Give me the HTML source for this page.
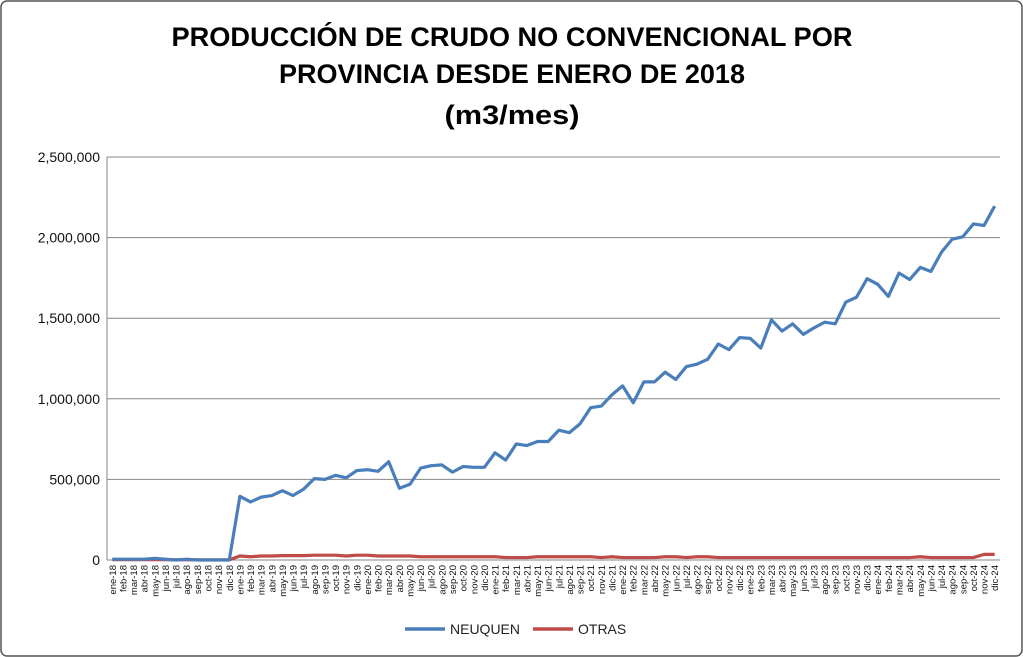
<!DOCTYPE html>
<html><head><meta charset="utf-8"><style>
body{margin:0;background:#fff}
svg{display:block;font-family:"Liberation Sans",sans-serif}
</style></head><body>
<svg id="c" width="1023" height="657">
<rect x="1" y="1" width="1021" height="655" rx="6" fill="#fff" stroke="#555" stroke-width="1.5"/>
<g font-weight="bold" font-size="27" text-anchor="middle" fill="#000">
<text x="512" y="46" textLength="681" lengthAdjust="spacingAndGlyphs">PRODUCCIÓN DE CRUDO NO CONVENCIONAL POR</text>
<text x="512" y="83" textLength="466" lengthAdjust="spacingAndGlyphs">PROVINCIA DESDE ENERO DE 2018</text>
<text x="512" y="124" textLength="135" lengthAdjust="spacingAndGlyphs">(m3/mes)</text>
</g>
<g id="grid"></g><g id="ylab"></g><g id="xlab"></g><g id="series"></g>
<g>
<line x1="405" y1="629" x2="445" y2="629" stroke="#4a7ebb" stroke-width="3.5"/>
<text x="450" y="634" font-size="14" fill="#222">NEUQUEN</text>
<line x1="533" y1="629" x2="573" y2="629" stroke="#be4b48" stroke-width="3.5"/>
<text x="578" y="634" font-size="14" fill="#222">OTRAS</text>
</g>
</svg>
<script>
const months=["ene","feb","mar","abr","may","jun","jul","ago","sep","oct","nov","dic"];
const years=["18","19","20","21","22","23","24"];
const yTicks=[0,500000,1000000,1500000,2000000,2500000];
const yTickLabels=["0","500,000","1,000,000","1,500,000","2,000,000","2,500,000"];
const neuquen=[5,5,5,5,10,5,0,5,0,0,0,0,
395,360,390,400,430,400,440,505,500,525,510,555,
560,550,610,445,470,570,585,590,545,580,575,575,
665,620,720,710,735,735,805,790,845,945,955,1025,
1080,975,1105,1105,1165,1120,1200,1215,1245,1340,1305,1380,
1375,1315,1490,1420,1465,1400,1440,1475,1465,1600,1630,1745,
1710,1635,1780,1740,1815,1790,1910,1990,2005,2085,2075,2195].map(v=>v*1000);
const otras=[2,2,2,2,3,2,1,2,1,1,1,1,
25,20,25,25,27,27,27,30,30,30,25,30,
30,25,25,25,25,20,20,20,20,20,20,20,
20,15,15,15,20,20,20,20,20,20,15,20,
15,15,15,15,20,20,15,20,20,15,15,15,
15,15,15,15,15,15,15,15,15,15,15,15,
15,15,15,15,20,15,15,15,15,15,35,35].map(v=>v*1000);
const cats=[];years.forEach(y=>months.forEach(m=>cats.push(m+"-"+y)));
const X0=107,X1=1000,Y0=560,Y1=157,NS="http://www.w3.org/2000/svg";
const step=(X1-X0)/cats.length;
const xs=i=>X0+step*(i+0.5);
const ys=v=>Y0-(v/2500000)*(Y0-Y1);
function mk(t,a,p){const e=document.createElementNS(NS,t);for(const k in a)e.setAttribute(k,a[k]);p.appendChild(e);return e;}
const grid=document.getElementById('grid'),ylab=document.getElementById('ylab'),xlab=document.getElementById('xlab'),ser=document.getElementById('series');
yTicks.forEach((v,i)=>{
 const l=mk('line',{x1:X0,x2:X1,y1:ys(v),y2:ys(v),stroke:'#868686','stroke-width':1},grid);
 
 
 const t=mk('text',{x:100,y:ys(v)+5,'text-anchor':'end','font-size':14,fill:'#111'},ylab);
 t.textContent=yTickLabels[i];
 
 
});
const ax=mk('line',{x1:X0,x2:X0,y1:Y1,y2:Y0,stroke:'#868686'},grid);


cats.forEach((c,i)=>{
 const t=mk('text',{x:0,y:0,transform:`translate(${xs(i)+3.5},565) rotate(-90)`,'text-anchor':'end','font-size':9.5,fill:'#111'},xlab);
 t.textContent=c;
 
 
});
function line(d,col,name){
 const p=mk('polyline',{points:d.map((v,i)=>xs(i)+','+ys(v)).join(' '),fill:'none',stroke:col,'stroke-width':3.2,'stroke-linejoin':'round'},ser);
 
 
}
line(otras,'#be4b48','series-otras');
line(neuquen,'#4a7ebb','series-neuquen');
</script>
</body></html>
